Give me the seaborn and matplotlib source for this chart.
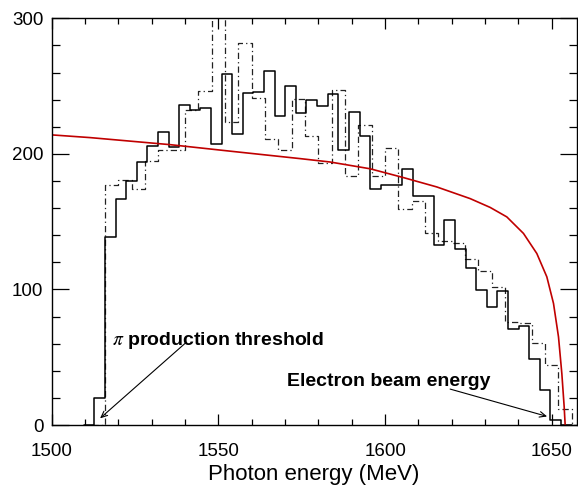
import numpy as np
import pandas as pd
import matplotlib
matplotlib.use("Agg")
import matplotlib.pyplot as plt
import seaborn as sns
from matplotlib.ticker import MultipleLocator

# ---------------- data ----------------
# solid histogram: bins of ~3.18 MeV starting at 1512.8 MeV
solid_first_edge = 1512.82
solid_bin_width = 3.18
solid_counts = [20, 139, 167, 180, 194, 206, 216, 205, 236, 232, 234, 207,
                259, 215, 245, 246, 261, 228, 250, 230, 240, 235, 244, 203,
                231, 213, 174, 177, 177, 189, 169, 169, 133, 151, 129.5,
                115.5, 99.5, 87, 99, 70.5, 73, 48.5, 25.5, 4]

# dash-dot histogram: bins of 4 MeV starting at 1516 MeV
dash_first_edge = 1516.0
dash_bin_width = 4.0
dash_counts = [176.8, 180.5, 174.4, 195, 203, 203, 232, 246.5, 302, 223.5,
               282, 241, 211, 203, 240.7, 213, 193, 247, 184, 221, 184,
               204.6, 159.7, 165, 141.7, 136, 134, 122.8, 113.5, 102, 76,
               75, 60.7, 44, 12]

# red curve
curve_energy = [1500, 1511.5, 1535.5, 1553.5, 1574.5, 1583.5, 1595.5, 1605.5,
                1615.5, 1625.5, 1631.5, 1636.5, 1641.5, 1645.5, 1648.5,
                1650.5, 1652.0, 1653.0, 1653.7, 1654.0]
curve_value = [214, 212, 206.8, 202, 196.5, 194, 189, 182.5, 175.6, 167,
               160.5, 153.5, 141.3, 126.5, 109.3, 89.7, 65, 38, 13.5, 0]

x_ticks = [1500, 1550, 1600, 1650]
y_ticks = [0, 100, 200, 300]
x_label = "Photon energy (MeV)"
threshold_label = r"$\pi$ production threshold"
beam_label = "Electron beam energy"

# ---------------- figure ----------------
sns.set_style("ticks")
plt.rcParams["font.family"] = ["Liberation Sans", "DejaVu Sans"]
plt.rcParams["mathtext.fontset"] = "stix"
plt.rcParams["text.color"] = "black"
plt.rcParams["axes.labelcolor"] = "black"
plt.rcParams["xtick.color"] = "black"
plt.rcParams["ytick.color"] = "black"

fig = plt.figure(figsize=(5.78, 4.88), dpi=100)
ax = fig.add_axes([51.7 / 578, 1 - 425 / 488, (576.5 - 51.7) / 578, (425 - 18.3) / 488])


def hist_frame(first, width, counts):
    # one empty bin on each side so the outline drops to the baseline
    padded = [0] + list(counts) + [0]
    n = len(padded)
    start = first - width
    edges = [start + width * i for i in range(n + 1)]
    centers = [(edges[i] + edges[i + 1]) / 2 for i in range(n)]
    return pd.DataFrame({"energy": centers, "count": padded}), edges


solid_df, solid_edges = hist_frame(solid_first_edge, solid_bin_width, solid_counts)
dash_df, dash_edges = hist_frame(dash_first_edge, dash_bin_width, dash_counts)

sns.histplot(data=dash_df, x="energy", weights="count", bins=dash_edges,
             element="step", fill=False, color="#222222", linewidth=0.9,
             linestyle=(0, (5, 2.5, 1, 2.5)), ax=ax)
sns.histplot(data=solid_df, x="energy", weights="count", bins=solid_edges,
             element="step", fill=False, color="black", linewidth=1.1, ax=ax)

curve_df = pd.DataFrame({"energy": curve_energy, "value": curve_value})
sns.lineplot(data=curve_df, x="energy", y="value", color="#c00000",
             linewidth=1.2, estimator=None, sort=False, ax=ax)

ax.set_xlim(1500, 1657.4)
ax.set_ylim(0, 300)
ax.set_xticks(x_ticks)
ax.set_yticks(y_ticks)
ax.xaxis.set_minor_locator(MultipleLocator(10))
ax.yaxis.set_minor_locator(MultipleLocator(20))
ax.tick_params(axis="both", which="both", direction="in", top=True, right=True,
               colors="black", width=0.9)
ax.tick_params(axis="x", which="major", length=8, labelsize=13.5, pad=13)
ax.tick_params(axis="x", which="minor", length=4)
ax.tick_params(axis="y", which="major", length=12, labelsize=13.5, pad=6)
ax.tick_params(axis="y", which="minor", length=6)
for s in ax.spines.values():
    s.set_linewidth(1.0)
    s.set_color("black")
    s.set_visible(True)

ax.set_xlabel(x_label, fontsize=16, labelpad=3)
ax.set_ylabel("")

arrow_kw = dict(arrowstyle="->,head_length=0.45,head_width=0.2", lw=0.8, color="black",
                shrinkA=0, shrinkB=0)
ax.annotate("", xy=(1514.5, 4.9), xytext=(1540, 60.2), arrowprops=arrow_kw)
ax.text(1518.0, 59, threshold_label, fontsize=14, fontweight="bold", va="baseline", ha="left")
ax.annotate("", xy=(1648.6, 6.3), xytext=(1619.5, 26.5), arrowprops=arrow_kw)
ax.text(1570.6, 28.7, beam_label, fontsize=14, fontweight="bold", va="baseline", ha="left")

fig.savefig("out.png", dpi=100)
